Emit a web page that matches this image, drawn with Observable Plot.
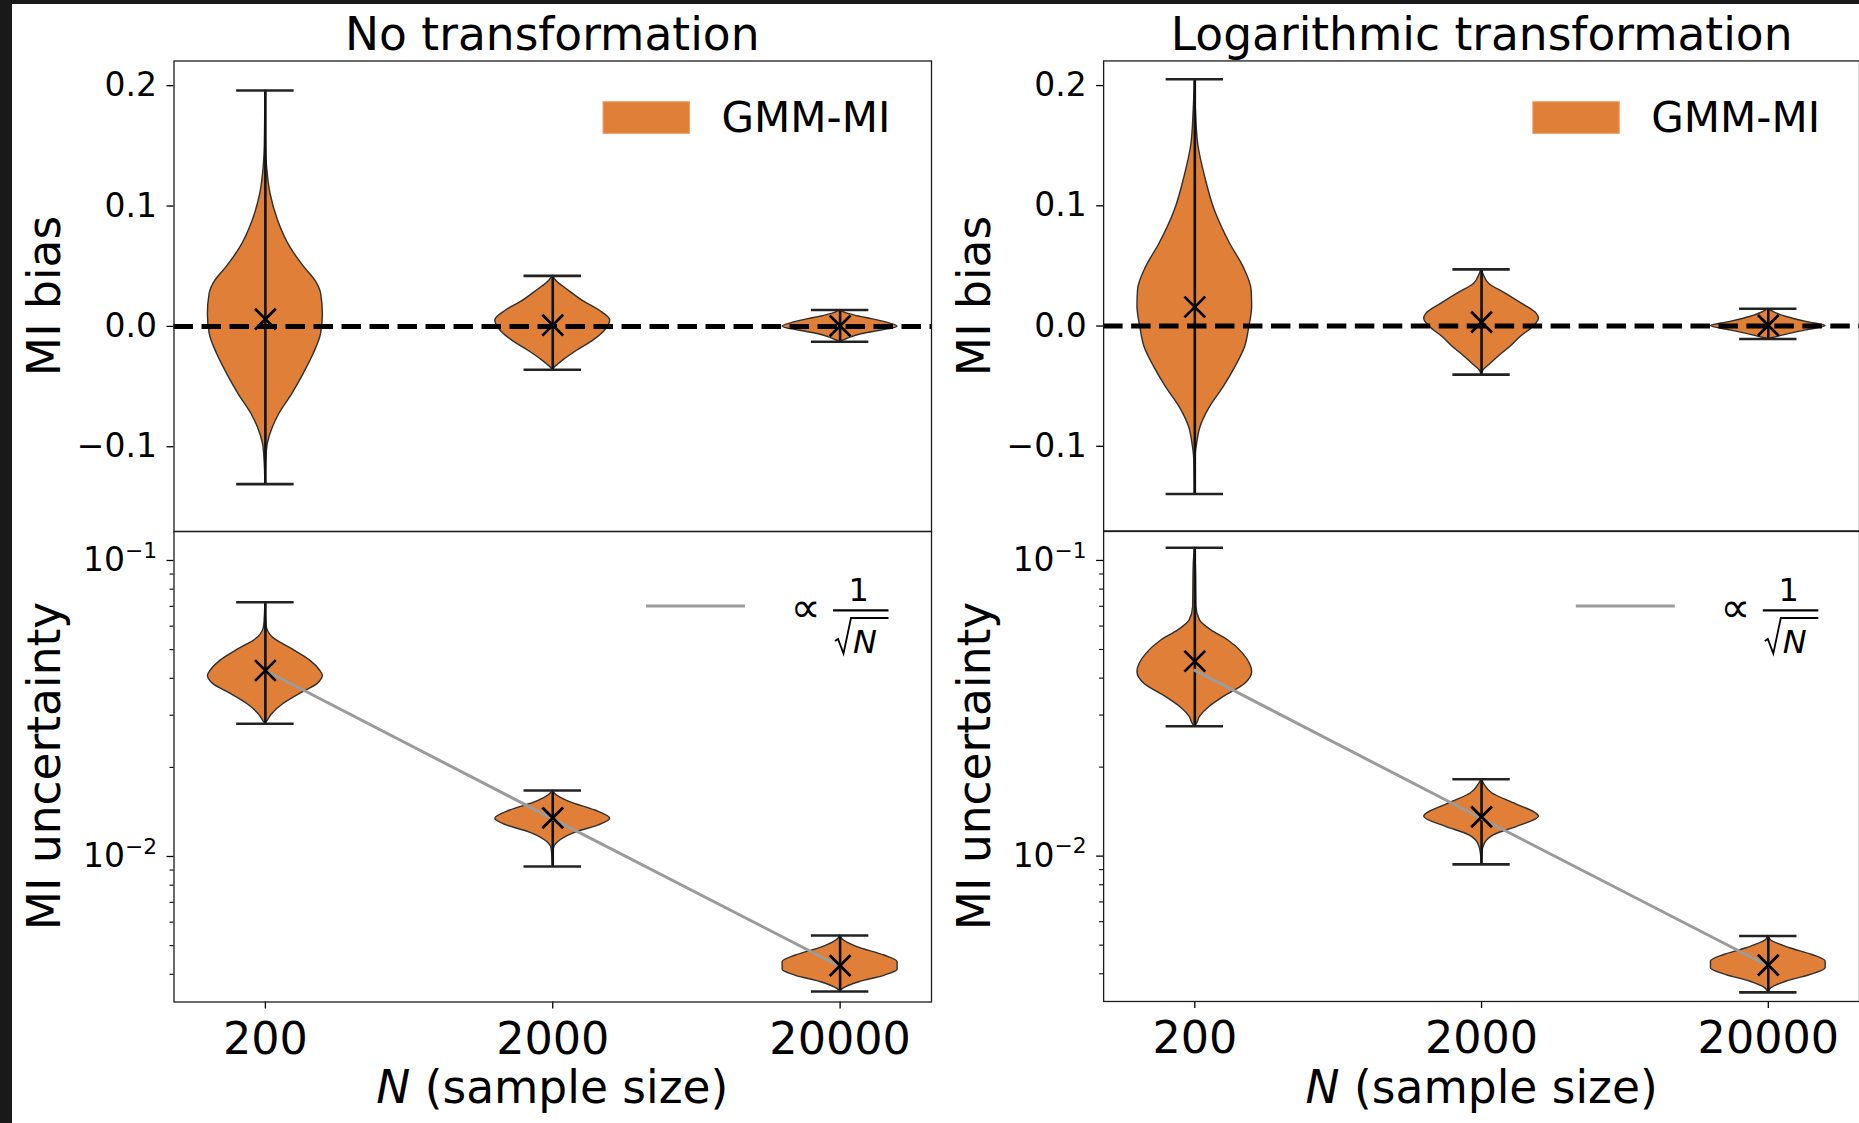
<!DOCTYPE html>
<html>
<head>
<meta charset="utf-8">
<script src="https://cdn.jsdelivr.net/npm/d3@7"></script>
<script src="https://cdn.jsdelivr.net/npm/@observablehq/plot@0.6"></script>
<style>
  html, body { margin: 0; padding: 0; background: #fff; }
  body { width: 1859px; height: 1123px; position: relative; overflow: hidden; font-family: "DejaVu Sans", sans-serif; color: #000; }
  .abs { position: absolute; white-space: nowrap; line-height: 1; }
  .title { font-size: 45.5px; transform: translateX(-50%); }
  .ylab { font-size: 45.5px; transform: translate(-50%, -50%) rotate(-90deg); }
  .xlab { font-size: 45.5px; transform: translateX(-50%); }
  .edge { position: absolute; background: #191919; z-index: 5; }
</style>
</head>
<body>
<script>
// Sample sizes shown on the x axis
const categories = ["200", "2000", "20000"];

// Violin profiles per sample size: [value, relative density (1 = widest)]
const biasNoTransformKde = [
  [[0.196, 0], [0.150, 0.01], [0.132, 0.03], [0.110, 0.09], [0.088, 0.22], [0.066, 0.43], [0.049, 0.68], [0.038, 0.87], [0.027, 0.97], [0.010, 1.0], [-0.006, 0.97], [-0.023, 0.84], [-0.040, 0.66], [-0.056, 0.47], [-0.073, 0.24], [-0.084, 0.13], [-0.098, 0.04], [-0.111, 0.015], [-0.131, 0]],
  [[0.042, 0], [0.038, 0.06], [0.030, 0.27], [0.021, 0.53], [0.013, 0.82], [0.005, 1.0], [-0.004, 0.9], [-0.012, 0.70], [-0.020, 0.43], [-0.028, 0.19], [-0.034, 0.04], [-0.036, 0]],
  [[0.0136, 0], [0.0116, 0.07], [0.0089, 0.26], [0.006, 0.55], [0.0033, 0.8], [-0.0002, 1.0], [-0.0036, 0.7], [-0.0063, 0.39], [-0.0097, 0.16], [-0.0119, 0.05], [-0.0127, 0]]
];
const biasNoTransformMin = [-0.131, -0.036, -0.0127];
const biasNoTransformMax = [0.196, 0.042, 0.0136];
const biasNoTransformMean = [0.006, 0.001, 0.0004];

const biasLogTransformKde = [
  [[0.2053, 0], [0.179, 0.02], [0.151, 0.06], [0.124, 0.18], [0.096, 0.35], [0.068, 0.62], [0.049, 0.85], [0.030, 0.99], [0.016, 1.0], [-0.001, 0.95], [-0.017, 0.88], [-0.034, 0.71], [-0.051, 0.5], [-0.067, 0.27], [-0.084, 0.1], [-0.098, 0.04], [-0.111, 0.01], [-0.1397, 0]],
  [[0.0471, 0], [0.0435, 0.03], [0.0352, 0.13], [0.0269, 0.42], [0.0186, 0.70], [0.0103, 0.96], [0.0061, 1.0], [-0.0008, 0.9], [-0.0091, 0.68], [-0.0174, 0.5], [-0.0257, 0.29], [-0.0326, 0.13], [-0.037, 0.03], [-0.0404, 0]],
  [[0.0144, 0], [0.013, 0.04], [0.0075, 0.32], [0.0033, 0.68], [0.0, 1.0], [-0.0036, 0.66], [-0.0069, 0.34], [-0.0097, 0.1], [-0.0108, 0]]
];
const biasLogTransformMin = [-0.1397, -0.0404, -0.0108];
const biasLogTransformMax = [0.2053, 0.0471, 0.0144];
const biasLogTransformMean = [0.0158, 0.0033, 0.0006];

const uncertaintyNoTransformKde = [
  [[0.0723, 0], [0.0603, 0.02], [0.0551, 0.12], [0.0497, 0.5], [0.0459, 0.78], [0.0425, 0.95], [0.0408, 1.0], [0.0383, 0.91], [0.0355, 0.61], [0.0328, 0.32], [0.0303, 0.12], [0.0284, 0.02], [0.02807, 0]],
  [[0.01671, 0], [0.01629, 0.04], [0.01526, 0.3], [0.01430, 0.74], [0.01341, 1.0], [0.01273, 0.8], [0.01208, 0.42], [0.01132, 0.13], [0.01062, 0.02], [0.00925, 0]],
  [[0.00541, 0], [0.00527, 0.03], [0.00494, 0.3], [0.00463, 0.77], [0.00440, 1.0], [0.00414, 1.0], [0.00396, 0.78], [0.00376, 0.33], [0.00357, 0.05], [0.0035, 0]]
];
const uncertaintyNoTransformMin = [0.02807, 0.00925, 0.0035];
const uncertaintyNoTransformMax = [0.0723, 0.01671, 0.00541];
const uncertaintyNoTransformMean = [0.0425, 0.01351, 0.00428];

const uncertaintyLogTransformKde = [
  [[0.1104, 0], [0.0949, 0.02], [0.0695, 0.03], [0.0627, 0.09], [0.0580, 0.29], [0.0537, 0.58], [0.0484, 0.84], [0.0419, 1.0], [0.0383, 0.88], [0.0345, 0.5], [0.0320, 0.26], [0.0296, 0.09], [0.0277, 0.02], [0.02749, 0]],
  [[0.0182, 0], [0.0176, 0.04], [0.01629, 0.19], [0.01507, 0.57], [0.01358, 1.0], [0.01256, 0.62], [0.01178, 0.22], [0.01104, 0.06], [0.01016, 0.01], [0.00938, 0]],
  [[0.00537, 0], [0.0052, 0.04], [0.00488, 0.38], [0.00463, 0.77], [0.0044, 1.0], [0.00418, 1.0], [0.00396, 0.73], [0.00376, 0.31], [0.00357, 0.05], [0.00346, 0]]
];
const uncertaintyLogTransformMin = [0.02749, 0.00938, 0.00346];
const uncertaintyLogTransformMax = [0.1104, 0.0182, 0.00537];
const uncertaintyLogTransformMean = [0.0456, 0.01358, 0.00428];

// Reference scaling line ∝ 1/√N
const sqrtScalingGuide = [0.0425, 0.0134, 0.00425];

// Tick values
const biasTicks = [-0.1, 0.0, 0.1, 0.2];
const uncertaintyMajorTicks = [0.1, 0.01];
const uncertaintyMinorTicks = [0.004, 0.005, 0.006, 0.007, 0.008, 0.009, 0.02, 0.03, 0.04, 0.05, 0.06, 0.07, 0.08, 0.09];

// Styling
const ORANGE = "#e08038";
const FONT = "DejaVu Sans";
const VIOLIN_HALF = 0.2;   // half of the violin width, in x units
const CAP_HALF = 0.1;      // half of the min/max cap width, in x units
const positions = categories.map((_, i) => i + 1);
const xDomain = [0.682, 3.318];
const biasDomain = [-0.1704, 0.2205];
const uncertaintyDomain = [0.003224, 0.1253];

// Column geometry (left column, right column)
const columns = [
  {left: 0, width: 935, marginLeft: 173.5, marginRight: 4},
  {left: 935, width: 925, marginLeft: 168.3, marginRight: 0}
];

function superscriptTicks(svg) {
  svg.querySelectorAll("text").forEach(t => {
    const m = /^10\^(.+)$/.exec(t.textContent);
    if (!m) return;
    t.textContent = "10";
    const sup = document.createElementNS("http://www.w3.org/2000/svg", "tspan");
    sup.setAttribute("font-size", "0.66em");
    sup.setAttribute("dy", "-0.62em");
    sup.textContent = m[1];
    t.appendChild(sup);
  });
}

function drawPanel(col, row, kde, mins, maxs, means) {
  const c = columns[col];
  const log = row === 1;
  const rows = kde.flatMap((profile, i) => profile.map(([value, density]) => ({pos: positions[i], value, density})));
  const stats = positions.map((pos, i) => ({pos, min: mins[i], max: maxs[i], mean: means[i], guide: sqrtScalingGuide[i]}));

  const marks = [
    Plot.areaX(rows, {
      y: "value",
      x1: d => d.pos - VIOLIN_HALF * d.density,
      x2: d => d.pos + VIOLIN_HALF * d.density,
      z: "pos",
      fill: ORANGE,
      stroke: "#2e2e2e",
      strokeWidth: 1.4,
      curve: "monotone-y"
    }),
    Plot.ruleX(stats, {x: "pos", y1: "min", y2: "max", stroke: "#111", strokeWidth: 2.6}),
    Plot.ruleY(stats, {y: "max", x1: d => d.pos - CAP_HALF, x2: d => d.pos + CAP_HALF, stroke: "#222", strokeWidth: 2.6}),
    Plot.ruleY(stats, {y: "min", x1: d => d.pos - CAP_HALF, x2: d => d.pos + CAP_HALF, stroke: "#222", strokeWidth: 2.6})
  ];
  if (!log) {
    marks.push(Plot.ruleY([0], {stroke: "#000", strokeWidth: 5, strokeDasharray: "19.5 8.5"}));
  } else {
    marks.push(Plot.line(stats, {x: "pos", y: "guide", stroke: "#9b9b9b", strokeWidth: 3}));
  }
  marks.push(Plot.dot(stats, {x: "pos", y: "mean", symbol: "times", r: 9.5, stroke: "#000", strokeWidth: 2.7}));

  if (log) {
    marks.push(Plot.axisY({ticks: uncertaintyMinorTicks, tickSize: 4, tickFormat: () => "", strokeWidth: 1.1, label: null}));
    marks.push(Plot.axisY({
      ticks: uncertaintyMajorTicks, tickSize: 7, tickPadding: 10, fontSize: 33, strokeWidth: 1.3, label: null,
      tickFormat: d => "10^" + String(Math.round(Math.log10(d))).replace("-", "\u2212")
    }));
    marks.push(Plot.axisX({
      ticks: positions, tickSize: 7, tickPadding: 13, fontSize: 44.5, strokeWidth: 1.3, label: null,
      tickFormat: p => categories[p - 1]
    }));
  } else {
    marks.push(Plot.axisY({ticks: biasTicks, tickSize: 7, tickPadding: 10, fontSize: 33, strokeWidth: 1.3, label: null, tickFormat: d3.format(".1f")}));
  }
  marks.push(Plot.frame({stroke: "#1c1c1c", strokeWidth: 1.3}));

  const top = log ? 527 : 0;
  const height = log ? 596 : 535;
  const svg = Plot.plot({
    width: c.width,
    height,
    marginLeft: c.marginLeft,
    marginRight: c.marginRight,
    marginTop: log ? 4 : 60.5,
    marginBottom: log ? 121.5 : 4,
    x: log ? {domain: xDomain} : {domain: xDomain, axis: null},
    y: log ? {type: "log", domain: uncertaintyDomain} : {domain: biasDomain},
    style: {fontFamily: FONT, background: "transparent", color: "#000", overflow: "visible"},
    marks
  });
  if (log) superscriptTicks(svg);
  const holder = document.createElement("div");
  holder.style.cssText = `position:absolute;left:${c.left}px;top:${top}px;`;
  holder.appendChild(svg);
  document.body.appendChild(holder);
}

drawPanel(0, 0, biasNoTransformKde, biasNoTransformMin, biasNoTransformMax, biasNoTransformMean);
drawPanel(1, 0, biasLogTransformKde, biasLogTransformMin, biasLogTransformMax, biasLogTransformMean);
drawPanel(0, 1, uncertaintyNoTransformKde, uncertaintyNoTransformMin, uncertaintyNoTransformMax, uncertaintyNoTransformMean);
drawPanel(1, 1, uncertaintyLogTransformKde, uncertaintyLogTransformMin, uncertaintyLogTransformMax, uncertaintyLogTransformMean);

// Titles and axis labels
const titles = ["No transformation", "Logarithmic transformation"];
columns.forEach((c, i) => {
  const frameLeft = c.left + c.marginLeft;
  const frameRight = c.left + c.width - c.marginRight;
  const cx = (frameLeft + frameRight) / 2;
  const add = (cls, html, css) => {
    const el = document.createElement("div");
    el.className = "abs " + cls;
    el.innerHTML = html;
    el.style.cssText += css;
    document.body.appendChild(el);
  };
  add("title", titles[i], `left:${cx}px;top:11.5px;`);
  add("ylab", "MI bias", `left:${frameLeft - 128.5}px;top:295.75px;`);
  add("ylab", "MI uncertainty", `left:${frameLeft - 128.5}px;top:766.25px;`);
  add("xlab", "<i>N</i> (sample size)", `left:${cx}px;top:1064.5px;`);
});

// Legends
const overlay = d3.select("body").append("svg")
  .attr("width", 1859).attr("height", 1123)
  .style("position", "absolute").style("left", "0px").style("top", "0px")
  .style("font-family", FONT);
columns.forEach(c => {
  const fl = c.left + c.marginLeft;
  overlay.append("rect").attr("x", fl + 429.5).attr("y", 101.7).attr("width", 86.5).attr("height", 31.7)
    .attr("fill", ORANGE).attr("stroke", "#f2a066").attr("stroke-width", 1);
  overlay.append("text").attr("x", fl + 548).attr("y", 132).attr("font-size", 42).text("GMM-MI");

  overlay.append("line").attr("x1", fl + 472.5).attr("x2", fl + 571.5).attr("y1", 606).attr("y2", 606)
    .attr("stroke", "#9b9b9b").attr("stroke-width", 3);
  overlay.append("text").attr("x", fl + 632).attr("y", 607).attr("font-size", 42)
    .attr("text-anchor", "middle").attr("dominant-baseline", "central").text("\u221D");
  overlay.append("text").attr("x", fl + 685.3).attr("y", 601).attr("font-size", 32)
    .attr("text-anchor", "middle").text("1");
  overlay.append("line").attr("x1", fl + 659.5).attr("x2", fl + 715).attr("y1", 610.4).attr("y2", 610.4)
    .attr("stroke", "#000").attr("stroke-width", 2.2);
  overlay.append("path")
    .attr("d", `M${fl + 661.5},641 L${fl + 664.5},639 L${fl + 670},653.5 L${fl + 677.5},618 L${fl + 715},618`)
    .attr("fill", "none").attr("stroke", "#000").attr("stroke-width", 1.8);
  overlay.append("text").attr("x", fl + 679.5).attr("y", 653).attr("font-size", 32)
    .attr("font-style", "italic").text("N");
});

// Dark border strips along the top and left edges
const leftEdge = document.createElement("div");
leftEdge.className = "edge";
leftEdge.style.cssText += "left:0;top:0;width:12px;height:1123px;";
document.body.appendChild(leftEdge);
const topEdge = document.createElement("div");
topEdge.className = "edge";
topEdge.style.cssText += "left:0;top:0;width:1859px;height:4px;";
document.body.appendChild(topEdge);
</script>
</body>
</html>
